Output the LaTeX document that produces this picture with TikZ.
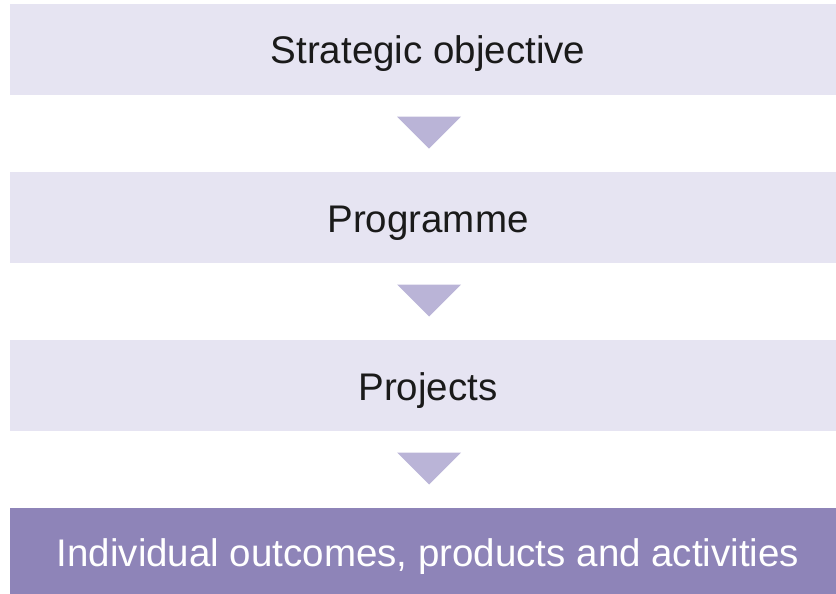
\documentclass[tikz,border=0pt]{standalone}
\usepackage{fontspec}
\setmainfont{Liberation Sans}
\definecolor{palefill}{HTML}{E6E4F2}
\definecolor{arrowfill}{HTML}{BAB4D7}
\definecolor{deepfill}{HTML}{8E84B8}
\definecolor{darktext}{HTML}{1A1A1A}
\begin{document}
\begin{tikzpicture}[x=1pt,y=-1pt,
  levelbox/.style={fill=palefill, draw=none, inner sep=0pt, anchor=north west,
    minimum width=826pt},
  finalbox/.style={levelbox, fill=deepfill},
  leveltext/.style={anchor=base, inner sep=0pt, text=darktext,
    font=\fontsize{38.5}{46}\selectfont},
  finaltext/.style={leveltext, text=white},
  downmark/.style={fill=arrowfill, draw=none}]
\useasboundingbox (0,0) rectangle (836,594);

% stacked levels
\node[levelbox, minimum height=91pt] (l1) at (10,4) {};
\node[levelbox, minimum height=90.5pt] (l2) at (10,172) {};
\node[levelbox, minimum height=90.5pt] (l3) at (10,340) {};
\node[finalbox, minimum height=86pt] (l4) at (10,508) {};

% labels
\node[leveltext] (t1) at (428,64) {Strategic objective};
\node[leveltext] (t2) at (428,232) {Programme};
\node[leveltext] (t3) at (428,400) {Projects};
\node[finaltext] (t4) at (428,566.5) {Individual outcomes, products and activities};

% downward markers between levels
\fill[downmark] (397,116.7) -- (461,116.7) -- (429,148.7) -- cycle;
\fill[downmark] (397,284.5) -- (461,284.5) -- (429,316.5) -- cycle;
\fill[downmark] (397,452.5) -- (461,452.5) -- (429,484.5) -- cycle;
\end{tikzpicture}
\end{document}
